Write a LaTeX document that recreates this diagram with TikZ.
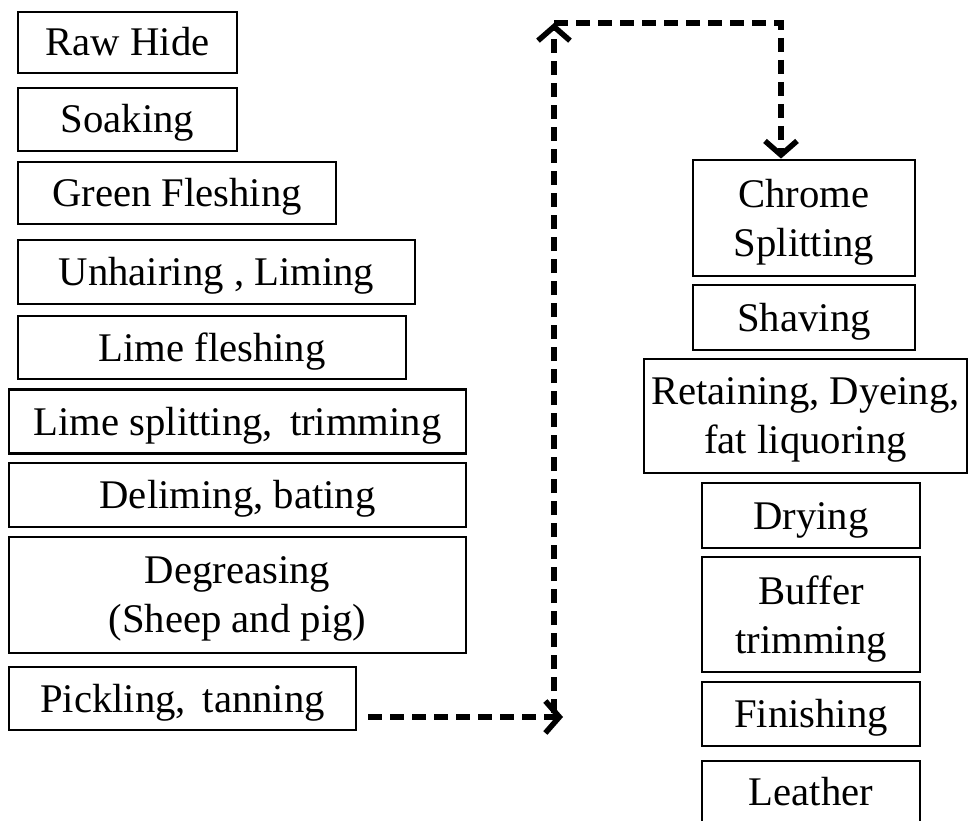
\documentclass[tikz,border=0pt]{standalone}
\usepackage{fontspec}
\setmainfont{Liberation Serif}
\usetikzlibrary{arrows.meta}

\newcommand\stagefont{\fontsize{40.7}{49}\selectfont}

\tikzset{
  stage/.style={draw, line width=2.8pt, inner sep=0pt, align=center,
    text depth=0pt, font=\stagefont},
  single/.style={stage, text height=27pt},
  flow/.style={line width=5.5pt, dash pattern=on 14pt off 8pt,
    -{Straight Barb[length=14pt, width=32pt]}},
}

\begin{document}
\begin{tikzpicture}[x=1pt, y=-1pt]

\useasboundingbox (0,0) rectangle (969,821);

% _____ Beam house (left column)
\node[single, minimum width=219, minimum height=61] (raw) at (127.5, 42.5) {Raw Hide};
\node[single, minimum width=219, minimum height=63] (soak) at (127.5, 119.5) {Soaking};
\node[single, minimum width=318, minimum height=62] (green) at (177, 193) {Green Fleshing};
\node[single, minimum width=397, minimum height=64] (unhair) at (216.5, 272) {Unhairing , Liming};
\node[single, minimum width=388, minimum height=63] (limeflesh) at (212, 347.5) {Lime fleshing};
\node[single, minimum width=457, minimum height=64] (limesplit) at (237.5, 421.5) {Lime splitting,\, trimming};
\node[single, minimum width=457, minimum height=64] (delime) at (237.5, 495) {Deliming, bating};
\node[stage, minimum width=457, minimum height=116] (degrease) at (237.5, 595) {Degreasing\\(Sheep and pig)};
\node[single, minimum width=347, minimum height=63] (pickle) at (182.5, 698.5) {Pickling,\, tanning};

% _____ Tan yard and finishing (right column)
\node[stage, minimum width=222, minimum height=116] (chrome) at (804, 218) {Chrome\\Splitting};
\node[single, minimum width=222, minimum height=65] (shave) at (804, 317.5) {Shaving};
\node[stage, minimum width=323, minimum height=114] (retain) at (805.5, 416) {Retaining, Dyeing,\\fat liquoring};
\node[single, minimum width=218, minimum height=65] (dry) at (811, 515.5) {Drying};
\node[stage, minimum width=218, minimum height=115] (buffer) at (811, 614.5) {Buffer\\trimming};
\node[single, minimum width=218, minimum height=64] (finish) at (811, 714) {Finishing};
\node[single, minimum width=218, minimum height=62] (leather) at (811, 792) {Leather};

% _____ Dashed transfer
\def\FlowX{554}
\def\FlowTop{23}
\def\FlowRight{781}
\def\FlowLow{717}

\coordinate (lowturn) at (\FlowX, \FlowLow);
\coordinate (topturn) at (\FlowX, \FlowTop);
\coordinate (rightturn) at (\FlowRight, \FlowTop);

\draw[flow] ([xshift=11pt]pickle.east |- lowturn) -- ([xshift=9pt]lowturn);
\draw[flow] ([yshift=4pt]lowturn) -- (topturn);
\draw[flow] (topturn) -- (rightturn) -- (chrome.north -| rightturn);

\end{tikzpicture}
\end{document}
